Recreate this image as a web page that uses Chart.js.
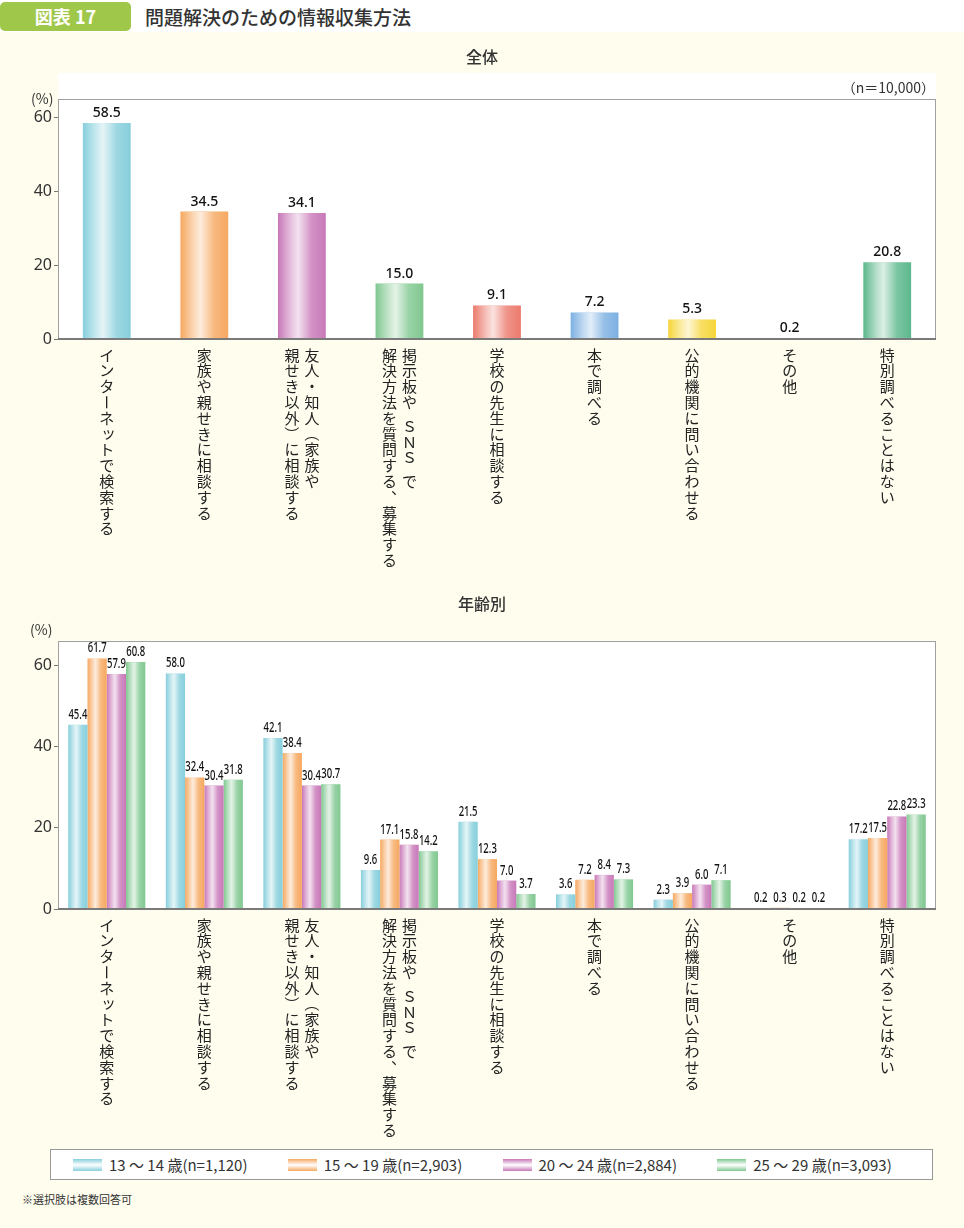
<!DOCTYPE html>
<html lang="ja">
<head>
<meta charset="utf-8">
<script src="https://cdn.jsdelivr.net/npm/chart.js@4.4.1/dist/chart.umd.min.js"></script>
<style>
  body { margin: 0; width: 964px; height: 1228px; background: #fffdee; position: relative; overflow: hidden;
         font-family: 'Noto Sans CJK JP', 'Noto Sans', sans-serif; color: #333; }
  .head { position: absolute; left: 0; top: 0; width: 964px; height: 32px; background: #fff; }
  .badge { position: absolute; left: 0; top: 2px; width: 131px; height: 29px; background: #9fc74a; border-radius: 5px;
           color: #fff; font-weight: 700; font-size: 18px; line-height: 29px; text-align: center; }
  .title { position: absolute; left: 145px; top: 3px; font-size: 19px; line-height: 28px; font-weight: 500; color: #333; }
  .sub { position: absolute; left: 0; width: 964px; text-align: center; font-size: 16px; font-weight: 500; z-index: 2; }
  .note { position: absolute; font-size: 14px; z-index: 2; line-height: 18px; }
  canvas { position: absolute; left: 0; }
  #legend { position: absolute; left: 50px; top: 1149px; width: 883px; height: 31px; border: 1px solid #999; background: #fff;
            display: flex; align-items: center; padding-left: 22px; box-sizing: border-box; }
  .item { width: 215px; display: flex; align-items: center; font-size: 15px; white-space: nowrap; }
  .sw { width: 29px; height: 12px; margin-right: 7px; }
  .foot { position: absolute; left: 22px; top: 1191px; font-size: 11px; color: #333; }
</style>
</head>
<body>
<div class="head"></div>
<div class="badge">図表 17</div>
<div class="title">問題解決のための情報収集方法</div>

<div class="sub" style="top:44px">全体</div>
<div class="note" style="right:29px; top:78px">（n＝10,000）</div>
<div class="note" style="left:31px; top:89px">(%)</div>
<canvas id="overall" width="964" height="530" style="top:60px"></canvas>

<div class="sub" style="top:591px">年齢別</div>
<div class="note" style="left:30px; top:620px">(%)</div>
<canvas id="byAge" width="964" height="545" style="top:600px"></canvas>

<div id="legend"></div>
<div class="foot">※選択肢は複数回答可</div>

<script>
// 選択肢（縦書き、右の列から）
const categories = [
  ['インターネットで検索する'],
  ['家族や親せきに相談する'],
  ['友人・知人（家族や', '親せき以外）に相談する'],
  ['掲示板や ＳＮＳ で', '解決方法を質問する、募集する'],
  ['学校の先生に相談する'],
  ['本で調べる'],
  ['公的機関に問い合わせる'],
  ['その他'],
  ['特別調べることはない']
];

const overallValues = [58.5, 34.5, 34.1, 15.0, 9.1, 7.2, 5.3, 0.2, 20.8];
const overallColors = ['#86cfdc', '#f6a860', '#c878b8', '#80c890', '#ec7a6c', '#7cb0e2', '#f6d63a', '#bbbbbb', '#5cb88c'];

const seriesNames = ['13 ～ 14 歳(n=1,120)', '15 ～ 19 歳(n=2,903)', '20 ～ 24 歳(n=2,884)', '25 ～ 29 歳(n=3,093)'];
const seriesColors = ['#86cfdc', '#f6a860', '#c878b8', '#80c890'];
const age13 = [45.4, 58.0, 42.1, 9.6, 21.5, 3.6, 2.3, 0.2, 17.2];
const age15 = [61.7, 32.4, 38.4, 17.1, 12.3, 7.2, 3.9, 0.3, 17.5];
const age20 = [57.9, 30.4, 30.4, 15.8, 7.0, 8.4, 6.0, 0.2, 22.8];
const age25 = [60.8, 31.8, 30.7, 14.2, 3.7, 7.3, 7.1, 0.2, 23.3];

const yTicks = [0, 20, 40, 60];

const ROTATE = 'ー（）～〜';
const SMALL = 'ッャュョァィゥェォっゃゅょ';

function drawVertical(ctx, text, x, y0, size, pitch) {
  let y = y0;
  for (const ch of text) {
    if (ch === ' ') { y += pitch * 0.5; continue; }
    ctx.save();
    ctx.translate(x, y + pitch / 2);
    if (ROTATE.includes(ch)) ctx.rotate(Math.PI / 2);
    else if (ch === '、' || ch === '。') ctx.translate(size * 0.6, -size * 0.6);
    else if (SMALL.includes(ch)) ctx.translate(size * 0.12, -size * 0.12);
    ctx.fillText(ch, 0, 0);
    ctx.restore();
    y += pitch;
  }
}

const framePlugin = {
  id: 'frame',
  beforeDraw(chart, args, opts) {
    const { ctx, chartArea: a } = chart;
    ctx.save();
    ctx.fillStyle = '#fff';
    ctx.fillRect(a.left, a.top - opts.extraTop, a.right - a.left, a.bottom - a.top + opts.extraTop);
    ctx.restore();
  },
  afterDatasetsDraw(chart, args, opts) {
    const { ctx, chartArea: a } = chart;
    ctx.save();
    chart.data.datasets.forEach((ds, i) => {
      chart.getDatasetMeta(i).data.forEach((bar, j) => {
        const p = bar.getProps(['x', 'y', 'base', 'width'], true);
        const l = p.x - p.width / 2;
        const g = ctx.createLinearGradient(l, 0, l + p.width, 0);
        g.addColorStop(0, 'rgba(255,255,255,0)');
        g.addColorStop(0.28, 'rgba(255,255,255,0.55)');
        g.addColorStop(0.42, 'rgba(255,255,255,0.78)');
        g.addColorStop(0.7, 'rgba(255,255,255,0.2)');
        g.addColorStop(1, 'rgba(255,255,255,0)');
        ctx.fillStyle = g;
        ctx.fillRect(l, p.y, p.width, p.base - p.y);

        // 数値ラベル
        ctx.save();
        ctx.fillStyle = '#111';
        ctx.font = opts.labelFont;
        ctx.textAlign = 'center';
        ctx.textBaseline = 'bottom';
        ctx.translate(p.x, p.y - 3);
        ctx.scale(opts.squeeze, 1);
        ctx.fillText(ds.data[j].toFixed(1), 0, 0);
        ctx.restore();
      });
    });

    // 枠
    ctx.strokeStyle = '#a0a0a0';
    ctx.lineWidth = 1;
    ctx.strokeRect(a.left + 0.5, a.top + 0.5, a.right - a.left - 1, a.bottom - a.top);
    ctx.strokeStyle = '#7a7a7a';
    ctx.lineWidth = 2;
    ctx.beginPath();
    ctx.moveTo(a.left, a.bottom);
    ctx.lineTo(a.right, a.bottom);
    ctx.stroke();
    ctx.restore();
  },
  afterDraw(chart) {
    const { ctx, chartArea: a } = chart;
    const xs = chart.scales.x;
    ctx.save();
    ctx.fillStyle = '#222';
    ctx.font = '15px "Noto Sans CJK JP"';
    ctx.textAlign = 'center';
    ctx.textBaseline = 'middle';
    categories.forEach((cols, i) => {
      const cx = xs.getPixelForValue(i);
      cols.forEach((text, k) => {
        const x = cx + (cols.length - 1) * 10 - k * 20;
        drawVertical(ctx, text, x, a.bottom + 8, 15, 15.8);
      });
    });
    ctx.restore();
  }
};

function baseOptions(yMax, xHeight, padTop, extraTop, labelFont, squeeze) {
  return {
    responsive: false,
    animation: false,
    layout: { padding: { top: padTop, right: 28, left: 0, bottom: 0 } },
    plugins: {
      legend: { display: false },
      tooltip: { enabled: false },
      frame: { extraTop, labelFont, squeeze }
    },
    scales: {
      x: {
        ticks: { display: false },
        grid: { display: false },
        border: { display: false },
        afterFit: s => { s.height = xHeight; }
      },
      y: {
        min: 0,
        max: yMax,
        afterFit: s => { s.width = 58; },
        afterBuildTicks: s => { s.ticks = yTicks.map(v => ({ value: v })); },
        ticks: { color: '#333', font: { family: 'Noto Sans', size: 16 }, padding: 2 },
        grid: { drawOnChartArea: false, drawTicks: true, tickLength: 4, color: '#777' },
        border: { display: false }
      }
    }
  };
}

const labels = categories.map(c => c.join(''));

new Chart(document.getElementById('overall'), {
  type: 'bar',
  data: {
    labels: labels,
    datasets: [{
      data: overallValues,
      backgroundColor: overallColors,
      barPercentage: 0.49,
      categoryPercentage: 1.0
    }]
  },
  options: baseOptions(65, 251, 39, 26, '500 14px "Noto Sans"', 1),
  plugins: [framePlugin]
});

const ageData = [age13, age15, age20, age25];
new Chart(document.getElementById('byAge'), {
  type: 'bar',
  data: {
    labels: labels,
    datasets: ageData.map((d, i) => ({
      label: seriesNames[i],
      data: d,
      backgroundColor: seriesColors[i],
      barPercentage: 1.0,
      categoryPercentage: 0.79
    }))
  },
  options: baseOptions(66, 236, 41, 0, '500 14px "Noto Sans"', 0.68),
  plugins: [framePlugin]
});

// 凡例
const legend = document.getElementById('legend');
seriesNames.forEach((name, i) => {
  const item = document.createElement('div');
  item.className = 'item';
  const c = seriesColors[i];
  item.innerHTML = `<span class="sw" style="background:linear-gradient(to bottom, ${c}, #fff 50%, ${c})"></span>${name}`;
  legend.appendChild(item);
});
</script>
</body>
</html>
